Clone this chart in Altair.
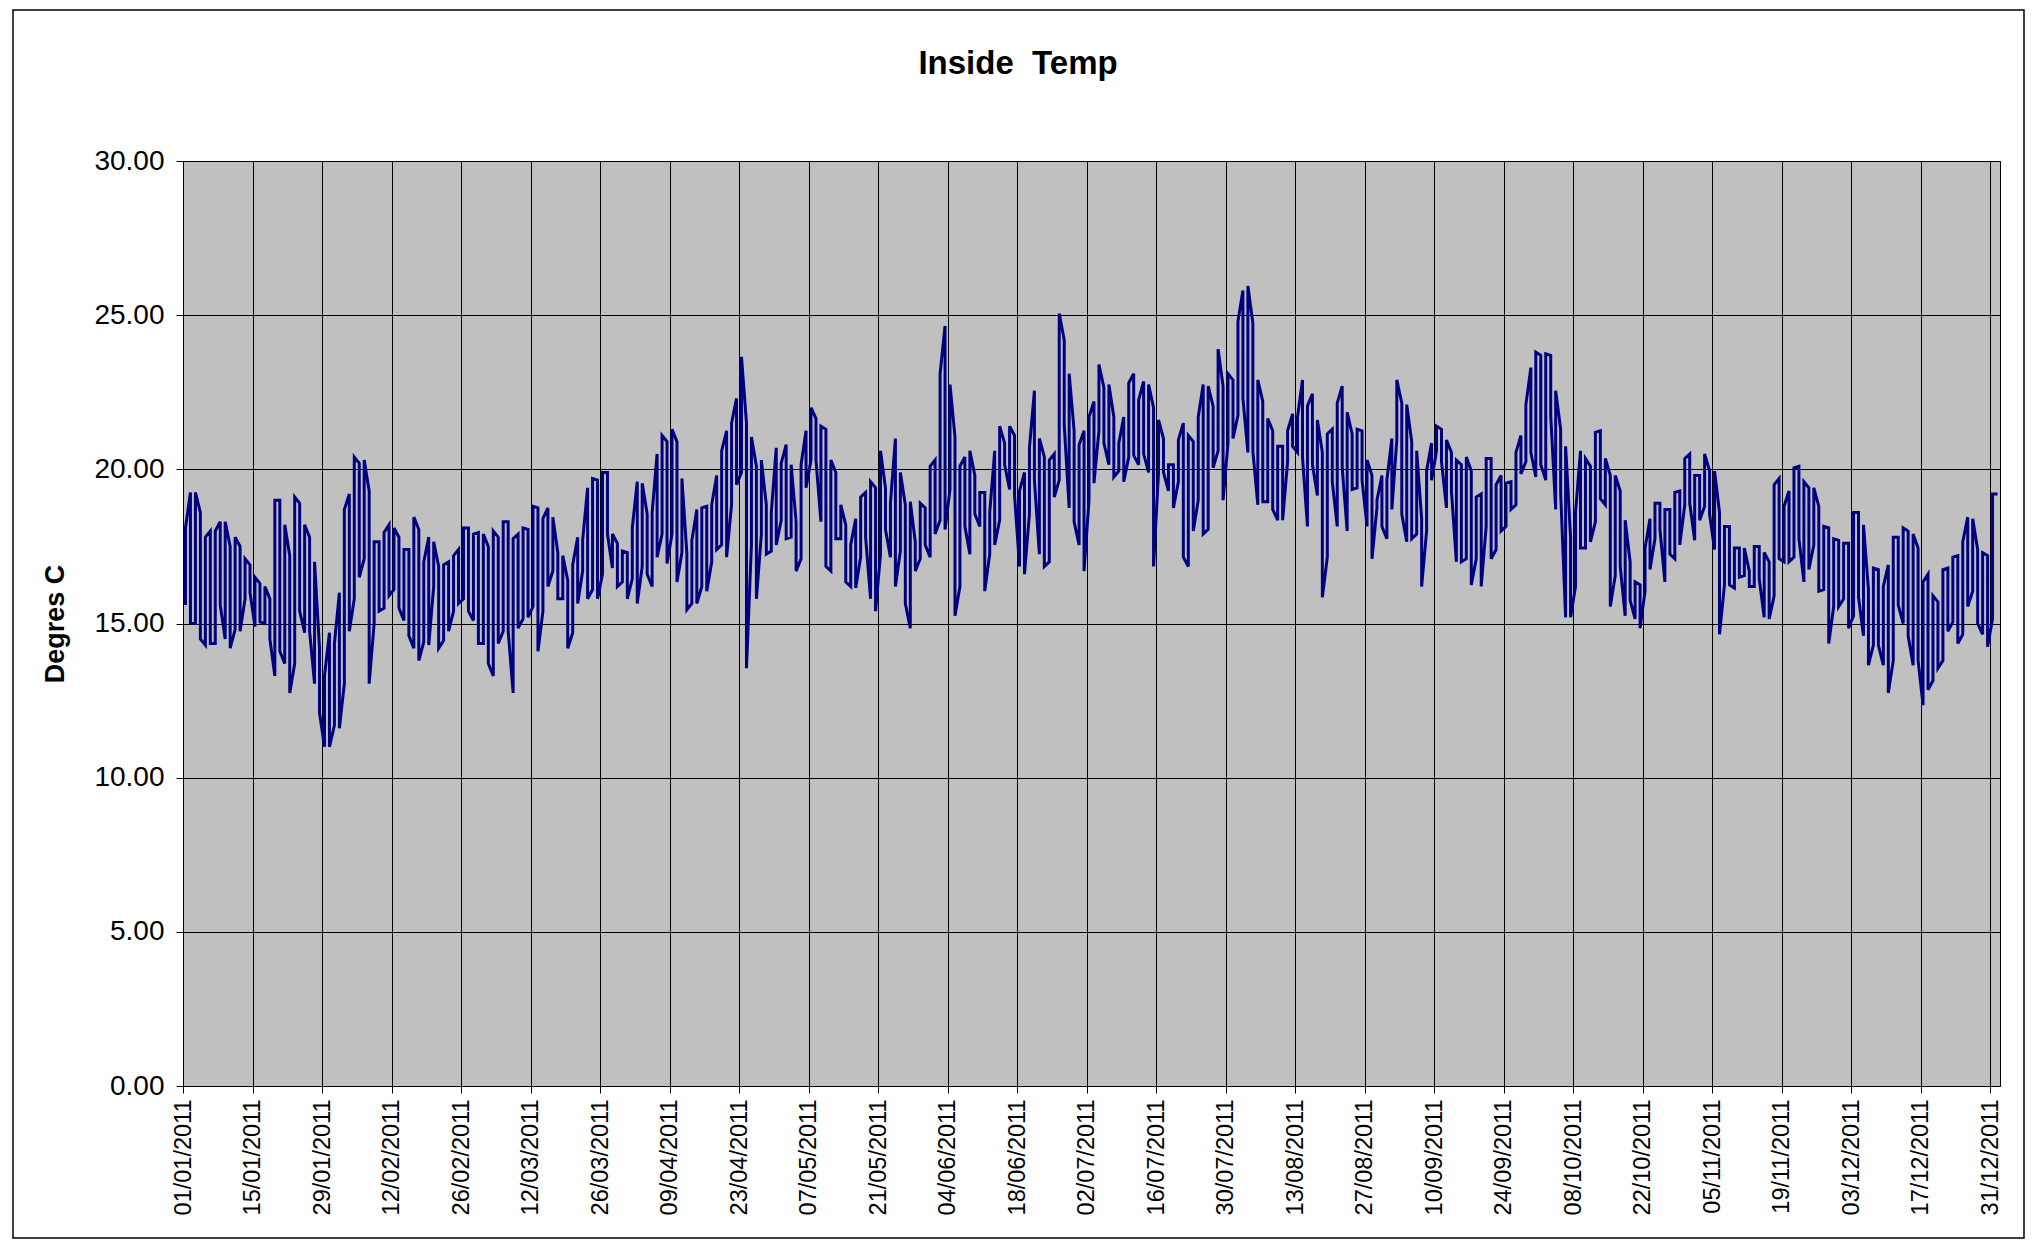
import altair as alt
import pandas as pd

# ---------------- data ----------------
start_date = "2011-01-01"
chart_title = "Inside \u00a0Temp"
y_title = "Degres C"

tick_dates = ["2011-01-01", "2011-01-15", "2011-01-29", "2011-02-12", "2011-02-26",
              "2011-03-12", "2011-03-26", "2011-04-09", "2011-04-23", "2011-05-07",
              "2011-05-21", "2011-06-04", "2011-06-18", "2011-07-02", "2011-07-16",
              "2011-07-30", "2011-08-13", "2011-08-27", "2011-09-10", "2011-09-24",
              "2011-10-08", "2011-10-22", "2011-11-05", "2011-11-19", "2011-12-03",
              "2011-12-17", "2011-12-31"]
y_ticks = [0, 5, 10, 15, 20, 25, 30]

# daily highest reading
day_high = [
    18.1, 19.25, 19.25, 18.6, 17.8, 18.0, 18.0, 18.3, 18.3, 17.5, 17.8, 17.5, 17.1, 16.9, 16.5, 16.3,
    16.2, 15.8, 19.0, 19.0, 18.2, 17.2, 19.1, 18.9, 18.2, 17.8, 17.0, 14.2, 13.3, 14.7, 14.35, 16.0,
    18.7, 19.2, 20.4, 20.2, 20.3, 19.3, 17.65, 17.65, 17.95, 18.2, 18.1, 17.8, 17.4, 17.4, 18.45, 18.05,
    17.0, 17.8, 17.65, 16.85,
    16.9, 17.0, 17.2, 17.4, 18.1, 18.1, 17.9, 17.95, 17.9, 17.5, 18.0, 17.8, 18.3, 18.3, 17.75, 17.9,
    18.1, 18.05, 18.8, 18.75, 18.4, 18.75, 18.45, 17.3, 17.2, 16.4, 16.9, 17.8, 17.7, 19.4, 19.7, 19.65,
    19.9, 19.9, 17.9, 17.6, 17.35, 17.3, 18.1, 19.6, 19.55, 18.55, 18.6, 20.5, 21.1, 20.9, 21.3, 20.9,
    19.7, 17.25, 17.7, 18.7,
    18.75, 18.8, 18.85, 19.8, 20.6, 21.25, 21.5, 22.3, 23.65, 21.5, 21.05, 20.1, 20.3, 18.85, 18.6, 20.7,
    20.2, 20.8, 20.15, 18.3, 20.15, 21.25, 22.0, 21.65, 21.4, 21.3, 20.3, 19.9, 18.85, 18.2, 17.55, 18.4,
    19.1, 19.25, 19.6, 19.4, 20.6, 19.4, 18.9, 21.0, 19.9, 18.85, 18.95, 17.65, 18.9, 18.75, 20.1, 20.3,
    23.1, 24.65, 22.75, 21.05, 20.1,
    20.4, 20.6, 19.8, 19.25, 19.25, 18.6, 20.6, 21.4, 20.85, 21.4, 21.1, 19.3, 19.9, 20.7, 22.55, 21.0,
    20.4, 20.3, 20.5, 25.05, 24.2, 23.1, 21.25, 20.8, 21.25, 21.7, 22.2, 23.4, 22.65, 22.75, 21.7, 20.85,
    21.7, 22.8, 23.1, 22.25, 22.85, 22.75, 22.0, 21.6, 21.0, 20.15, 20.15, 20.95, 21.5, 21.1, 20.9, 21.7,
    22.75, 22.7, 22.05, 23.9,
    22.7, 23.1, 22.9, 24.8, 25.8, 25.95, 24.75, 22.9, 22.2, 21.65, 21.25, 20.75, 20.75, 21.25, 21.8, 21.7,
    22.9, 22.05, 22.45, 21.6, 20.55, 21.15, 21.3, 22.15, 22.7, 21.85, 21.15, 21.3, 21.25, 20.3, 19.8, 19.0,
    19.8, 19.65, 21.0, 22.9, 22.15, 22.1, 20.9, 20.6, 18.4, 19.95, 20.85, 21.4, 21.3, 20.95, 20.55, 20.3,
    20.15, 20.4, 19.95, 19.1,
    19.2, 20.35, 20.35, 19.5, 19.8, 19.55, 19.6, 20.55, 21.1, 22.1, 23.3, 23.8, 23.7, 23.75, 23.7, 22.55,
    21.3, 20.75, 17.8, 18.6, 20.6, 20.35, 20.1, 21.2, 21.25, 20.35, 19.8, 19.8, 19.3, 18.35, 17.0, 16.35,
    16.25, 17.45, 18.4, 18.9, 18.9, 18.7, 18.7, 19.25, 19.3, 20.35, 20.5, 19.8, 19.8, 20.5, 19.95, 19.95,
    18.6, 18.15, 18.15, 17.45, 17.45,
    17.45, 16.7, 17.5, 17.5, 17.3, 17.0, 19.5, 19.7, 18.8, 19.3, 20.05, 20.1, 19.6, 19.4, 19.4, 18.8,
    18.15, 18.1, 17.75, 17.7, 17.6, 17.6, 18.6, 18.6, 18.2, 16.1, 16.8, 16.75, 16.2, 16.9, 17.8, 17.8,
    18.1, 18.0, 17.9, 17.45, 16.35, 16.6, 15.9, 15.7, 16.75, 16.8, 17.15, 17.2, 17.65, 18.45, 18.4, 17.4,
    17.3, 17.2, 19.2,
]

# daily lowest reading
day_low = [
    15.6, 15.0, 15.0, 14.5, 14.3, 14.35, 14.35, 15.6, 14.5, 14.2, 14.8, 14.75, 15.8, 16.0, 14.9, 15.05,
    15.0, 14.5, 13.3, 14.1, 13.7, 12.75, 13.7, 15.4, 14.7, 14.75, 13.05, 12.1, 11.0, 11.0, 11.7, 11.6,
    13.05, 14.75, 15.8, 16.5, 17.1, 13.05, 15.0, 15.4, 15.5, 15.9, 16.1, 15.5, 15.1, 14.6, 14.2, 13.8,
    14.4, 14.3, 16.2, 14.2,
    14.45, 14.75, 15.4, 15.65, 15.8, 15.4, 15.1, 14.35, 14.35, 13.7, 13.3, 14.35, 14.75, 14.75, 12.75, 14.85,
    15.15, 15.2, 15.55, 14.1, 15.4, 16.2, 16.7, 15.8, 15.8, 14.2, 14.7, 15.65, 16.7, 15.8, 16.1, 15.8,
    16.6, 17.9, 16.8, 16.2, 16.35, 15.8, 16.45, 15.65, 16.85, 16.6, 16.2, 17.15, 17.9, 16.95, 17.9, 16.35,
    17.3, 15.45, 15.65, 15.65,
    16.2, 16.05, 17.0, 17.4, 17.55, 17.15, 18.85, 19.5, 19.9, 13.55, 17.55, 15.8, 17.9, 17.25, 17.35, 17.55,
    18.35, 17.75, 17.8, 16.7, 17.1, 19.4, 20.3, 20.3, 18.3, 16.85, 16.7, 17.75, 17.75, 16.35, 16.2, 16.15,
    17.15, 17.8, 15.8, 15.4, 17.25, 18.05, 17.15, 16.2, 17.35, 15.65, 14.85, 16.7, 17.1, 17.55, 17.15, 17.9,
    18.35, 18.05, 19.35, 15.25, 16.2,
    18.15, 17.25, 18.55, 18.15, 16.05, 17.25, 17.55, 18.35, 20.15, 19.35, 19.15, 16.85, 16.6, 18.55, 19.65, 17.25,
    16.85, 17.0, 19.1, 19.65, 21.45, 18.75, 18.3, 17.55, 16.7, 19.0, 19.55, 21.25, 20.85, 20.15, 19.75, 19.95,
    19.6, 20.4, 20.45, 20.15, 20.5, 19.9, 16.85, 19.9, 19.9, 19.3, 18.75, 19.6, 17.15, 16.85, 18.0, 19.0,
    17.9, 18.05, 20.05, 20.6,
    19.0, 20.85, 21.0, 21.75, 22.3, 20.55, 20.6, 18.85, 18.95, 18.95, 18.7, 18.35, 18.35, 20.25, 20.75, 20.55,
    20.4, 18.15, 20.15, 19.15, 15.85, 17.15, 19.6, 18.15, 20.05, 18.0, 19.35, 19.4, 19.65, 18.15, 17.1, 18.75,
    18.15, 17.75, 18.7, 20.95, 18.55, 17.65, 17.75, 17.9, 16.2, 18.0, 19.65, 20.6, 20.25, 18.75, 19.3, 17.0,
    17.0, 17.1, 16.25, 17.1,
    16.2, 18.15, 17.1, 17.4, 18.0, 18.15, 18.7, 18.85, 19.85, 20.25, 20.55, 19.75, 20.15, 19.65, 21.75, 18.7,
    19.25, 15.2, 15.2, 16.2, 17.45, 17.45, 17.65, 18.3, 19.05, 18.85, 15.55, 16.55, 16.85, 15.25, 15.75, 15.15,
    14.85, 16.05, 16.75, 17.75, 18.05, 16.35, 17.25, 17.1, 17.55, 18.85, 18.9, 17.7, 18.35, 18.8, 18.55, 17.4,
    14.65, 16.25, 16.25, 16.15, 16.5,
    16.55, 16.2, 16.2, 16.45, 15.2, 15.15, 15.9, 17.1, 17.0, 17.0, 17.15, 17.75, 16.35, 16.75, 17.55, 16.05,
    16.1, 14.35, 15.55, 15.55, 15.8, 14.85, 15.25, 15.85, 14.6, 13.65, 14.3, 14.3, 13.65, 12.75, 13.8, 15.6,
    15.0, 14.6, 13.65, 13.8, 12.35, 12.85, 13.15, 13.55, 13.8, 14.75, 15.05, 14.35, 14.65, 15.55, 16.05, 15.0,
    14.65, 14.25, 15.15,
]

last_date = "2012-01-01"
last_value = 19.2

# ---------------- table ----------------
days = pd.date_range(start_date, periods=len(day_high), freq="D")
rows = []
for i, (d, hi, lo) in enumerate(zip(days, day_high, day_low)):
    stamp = (d + pd.Timedelta(hours=12)).strftime("%Y-%m-%dT%H:%M:%SZ")
    pair = (lo, hi) if i % 2 == 0 else (hi, lo)
    for v in pair:
        rows.append({"date": stamp, "temp": v, "seq": len(rows)})
rows.append({"date": last_date + "T12:00:00Z", "temp": last_value, "seq": len(rows)})
df = pd.DataFrame(rows)


def utc_dt(s):
    y, m, dd = (int(p) for p in s.split("-"))
    return alt.DateTime(year=y, month=m, date=dd, utc=True)


FONT = "Liberation Sans"
W, H = 1817, 925

x_enc = alt.X(
    "date:T",
    scale=alt.Scale(type="utc", domain=[utc_dt("2011-01-01"), utc_dt("2012-01-02")]),
    axis=alt.Axis(
        values=[utc_dt(s) for s in tick_dates],
        format="%d/%m/%Y",
        labelAngle=270,
        labelAlign="right",
        labelBaseline="middle",
        labelFontSize=23.5,
        labelFont=FONT,
        labelColor="black",
        labelPadding=6,
        labelFlush=False,
        labelOverlap=False,
        labelBound=False,
        tickSize=7,
        tickColor="black",
        domainColor="black",
        grid=True,
        gridColor="black",
        gridWidth=1,
        gridOpacity=1,
        title=None,
    ),
)

y_enc = alt.Y(
    "temp:Q",
    scale=alt.Scale(domain=[0, 30], nice=False, zero=True),
    axis=alt.Axis(
        values=y_ticks,
        format=".2f",
        labelFontSize=28,
        labelFont=FONT,
        labelColor="black",
        labelPadding=12,
        tickSize=7,
        tickColor="black",
        domainColor="black",
        grid=True,
        gridColor="black",
        gridWidth=1,
        gridOpacity=1,
        title=y_title,
        titleFont=FONT,
        titleFontSize=27,
        titleFontWeight="bold",
        titleColor="black",
        titleAngle=270,
        titleAlign="center",
        titleBaseline="middle",
        titleX=-128,
        titleY=H / 2,
    ),
)

line = alt.Chart(df).mark_line(color="#000080", strokeWidth=3, strokeJoin="miter").encode(
    x=x_enc,
    y=y_enc,
    order=alt.Order("seq:Q"),
)

title_df = pd.DataFrame({"label": [chart_title]})
title = alt.Chart(title_df).mark_text(
    font=FONT, fontSize=33, fontWeight="bold", color="black", align="center", baseline="alphabetic"
).encode(text="label:N", x=alt.value(835), y=alt.value(-87))

frame = alt.Chart(title_df).mark_rect(filled=False, stroke="black", strokeWidth=1.5).encode(
    x=alt.value(-170), x2=alt.value(1841), y=alt.value(-151), y2=alt.value(1077)
)

chart = alt.layer(frame, line, title).properties(
    width=W,
    height=H,
    padding={"left": 175, "top": 153, "right": 30, "bottom": 160},
    autosize=alt.AutoSizeParams(type="none"),
    background="white",
).configure_view(fill="#C0C0C0", stroke="black", strokeWidth=1)

chart.save("out.html", embed_options={"renderer": "svg", "actions": False})
